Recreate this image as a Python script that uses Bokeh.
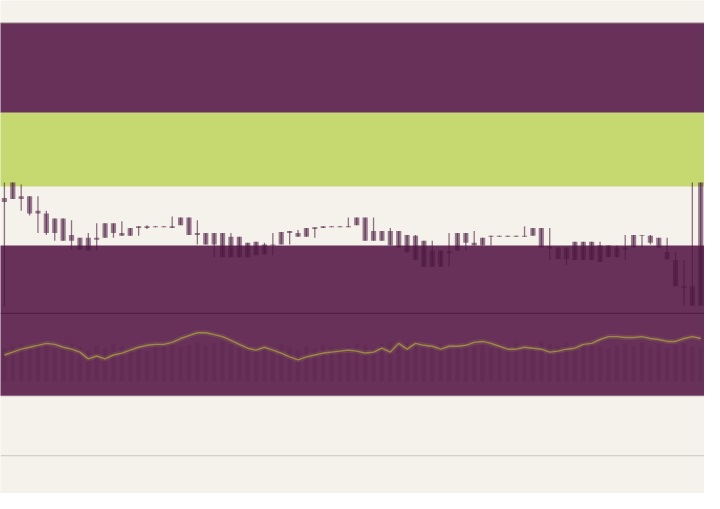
from bokeh.plotting import figure
from bokeh.models import Range1d, Span, ColumnDataSource
from bokeh.embed import file_html
from bokeh.resources import INLINE

# ---- data ----
opens = [83, 91, 84, 84, 76.5, 75, 72.5, 72.5, 64, 62.5,
         62.5, 62.5, 70, 70, 65, 67.5, 68.5, 68.5, 68.5, 68.5,
         68.5, 73, 73, 65, 65, 65, 65, 63, 63, 60,
         60.5, 59, 59, 65.5, 66, 65, 67.5, 68, 68.5, 68.5,
         68.5, 68.5, 73, 73, 66, 66, 66, 66, 64, 63.5,
         61, 56, 56, 55.5, 65, 65, 60, 62.5, 63.5, 63.5,
         63.5, 63.5, 63.5, 67.5, 67.5, 58, 57.5, 57.5, 60.5, 60.5,
         60.5, 58.5, 58.5, 57.5, 57.5, 64, 64, 63.5, 62.5, 55,
         51, 37.5, 37.5, 91]
closes = [81, 82.5, 82.5, 75, 75, 65, 65, 61, 61, 56.5,
          56, 61.5, 62.5, 65, 63.5, 63.5, 67.5, 67.5, 68, 68,
          67.5, 69, 64, 64, 59, 59, 52.5, 52.5, 52.5, 52.5,
          53.5, 54, 58.5, 59, 65, 63, 63, 67, 67.5, 68,
          68, 68, 69, 61, 61, 61, 58.5, 57.5, 55, 51,
          47.5, 47.5, 47.5, 54.5, 56, 60, 58.5, 58.5, 63, 63,
          63, 63, 63, 63.5, 57.5, 57, 51.5, 51.5, 51, 51,
          51, 50, 52.5, 52.5, 56.5, 57.5, 63.5, 60, 57.5, 51.5,
          37.5, 36.5, 27.5, 27.5]
highs = [91, 91, 90, 84, 84, 76.5, 72.5, 72.5, 71.5, 62.5,
         65, 70, 70, 70, 71, 67.5, 68.5, 69, 68.5, 68.5,
         73.5, 73, 73, 71.5, 65, 65, 65, 65, 63, 60,
         60.5, 60, 65, 65.5, 66, 66.5, 67.5, 68, 68.5, 68.5,
         68.5, 73, 73, 73, 73, 66, 67.5, 66, 64, 64,
         61, 61, 56, 65, 65, 65, 66, 62.5, 63.5, 63.5,
         63.5, 63.5, 68.5, 67.5, 67.5, 67.5, 57.5, 57.5, 60.5, 60.5,
         60.5, 60.5, 58.5, 58.5, 64, 64, 64, 64, 62.5, 62.5,
         55, 51, 91, 91]
lows = [27, 82.5, 76.5, 74, 65, 64, 61, 61, 56.5, 56.5,
        56, 56, 62.5, 62.5, 63.5, 63.5, 63.5, 67, 68, 68,
        67.5, 69, 64, 59, 59, 52.5, 52.5, 52.5, 52.5, 52.5,
        53.5, 54, 53.5, 59, 59, 63, 63, 62.5, 67.5, 68,
        68, 68, 69, 61, 61, 61, 58.5, 57.5, 55, 51,
        47.5, 47.5, 47.5, 47.5, 56, 56, 58.5, 58.5, 58.5, 63,
        63, 63, 63, 63.5, 57.5, 51, 51.5, 48.5, 51, 51,
        51, 50, 52.5, 52.5, 51, 57.5, 57.5, 59, 57.5, 51,
        37.5, 27.5, 27.5, 27.5]
volume = [34, 36, 38, 35, 40, 37, 33, 36, 39, 35,
          32, 37, 34, 38, 36, 33, 35, 31, 34, 36,
          38, 35, 37, 40, 36, 39, 41, 38, 35, 37,
          34, 36, 33, 38, 35, 32, 36, 34, 37, 35,
          33, 36, 39, 37, 34, 38, 41, 36, 39, 42,
          37, 35, 38, 33, 36, 40, 35, 37, 34, 38,
          36, 39, 35, 37, 41, 38, 36, 40, 35, 41,
          38, 36, 34, 37, 39, 36, 40, 35, 38, 34,
          37, 39, 36, 35]
indicator = [34, 37, 40, 42, 44, 46, 45, 42, 40, 37,
             30, 33, 30, 34, 36, 39, 42, 44, 45, 45,
             47, 51, 54, 57, 57, 55, 53, 49, 45, 41,
             39, 42, 39, 36, 32, 29, 32, 34, 36, 37,
             38, 39, 38, 36, 37, 41, 37, 46, 40, 46,
             44, 43, 40, 43, 43, 44, 47, 48, 46, 43,
             40, 40, 42, 41, 40, 37, 38, 40, 41, 45,
             46, 50, 53, 53, 52, 52, 53, 51, 50, 48,
             48, 51, 53, 51]
idx = list(range(len(opens)))

CREAM = "#F4F2EA"
PURPLE = "#68315A"
GREEN = "#C6D970"
CANDLE = "#4A1840"

p = figure(width=704, height=493, toolbar_location=None, output_backend="svg",
           x_range=Range1d(-0.466, 83.45), y_range=Range1d(-69.5, 185),
           x_axis_type=None, y_axis_type=None, min_border=0,
           background_fill_color=CREAM, border_fill_color=CREAM,
           outline_line_color=None)
p.extra_y_ranges = {
    "px": Range1d(509, 0),
    "ind": Range1d(-109, 400),
    "vol": Range1d(-116, 393),
}

# background bands (layout, in reference-pixel units)
band_top = [23, 116, 253]
band_bot = [116, 192, 408]
band_col = [PURPLE, GREEN, PURPLE]
p.quad(left=-10, right=100, top=band_top, bottom=band_bot, fill_color=band_col,
       line_color=None, y_range_name="px")

for loc, col in [(23, "#BFB8B0"), (323, "#4C1B40"), (408, "#8A6A80"), (470, "#CBC7BF")]:
    p.add_layout(Span(location=loc, dimension="width", line_color=col, line_width=1,
                      y_range_name="px"))

src = ColumnDataSource(dict(x=idx, o=opens, c=closes, h=highs, l=lows,
                            v=volume, ind=indicator))

# volume columns
p.vbar(x="x", width=0.5, top="v", bottom=0, source=src, fill_color=CANDLE,
       fill_alpha=0.17, line_color=None, y_range_name="vol")

# candles
p.segment(x0="x", y0="h", x1="x", y1="l", source=src, line_color=CANDLE,
          line_alpha=0.6, line_width=1.3)
p.vbar(x="x", width=0.62, top="o", bottom="c", source=src, fill_color=CANDLE,
       fill_alpha=0.55, line_color=None)

# indicator line with soft glow
p.line(x="x", y="ind", source=src, line_color="#B8A050", line_alpha=0.15,
       line_width=5, y_range_name="ind")
p.line(x="x", y="ind", source=src, line_color="#9C8A44", line_width=1.4,
       y_range_name="ind")

open("out.html", "w").write(file_html(p, INLINE))
